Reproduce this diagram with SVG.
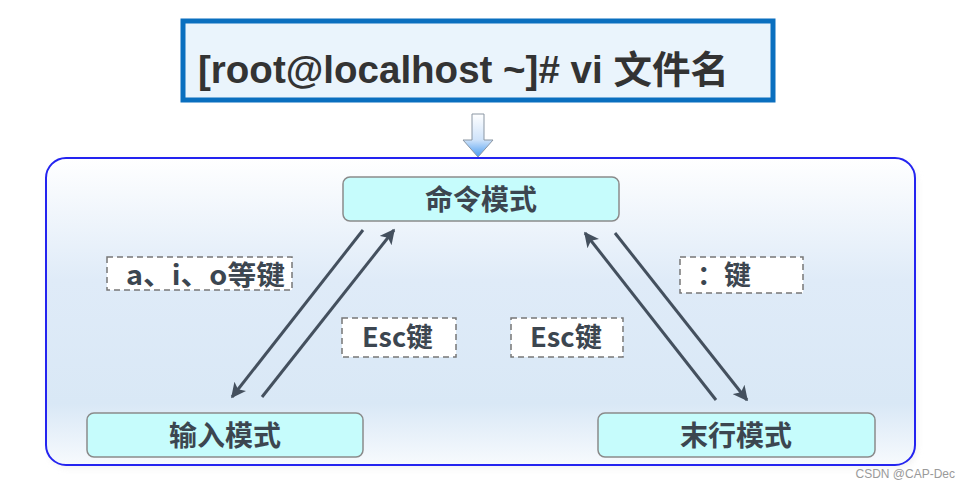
<svg xmlns="http://www.w3.org/2000/svg" width="970" height="487" viewBox="0 0 970 487">
<defs>
<linearGradient id="bg" x1="0" y1="0" x2="0" y2="1">
<stop offset="0" stop-color="#ffffff"/>
<stop offset="0.4" stop-color="#dfebf8"/>
<stop offset="0.8" stop-color="#d9e8f6"/>
<stop offset="1" stop-color="#f7fafd"/>
</linearGradient>
<linearGradient id="ag" x1="0" y1="0" x2="0" y2="1">
<stop offset="0" stop-color="#ffffff"/>
<stop offset="0.6" stop-color="#cfe3fa"/>
<stop offset="1" stop-color="#4a9cf0"/>
</linearGradient>
<marker id="ah" viewBox="0 0 10 10" refX="9" refY="5" markerWidth="5" markerHeight="5" orient="auto" markerUnits="strokeWidth">
<path d="M0,0 L10,5 L0,10 L2.5,5 Z" fill="#44505e"/>
</marker>
<filter id="sh" x="-5%" y="-5%" width="110%" height="115%">
<feGaussianBlur stdDeviation="3"/>
</filter>
</defs>
<style>
.node rect{fill:#c6fcfc;stroke:#8a8a8a;stroke-width:1.5}
.nt{font-family:"Noto Sans CJK SC","Liberation Sans",sans-serif;font-weight:bold;font-size:28px;fill:#3c4650;text-anchor:middle}
.lab rect{fill:#ffffff;stroke:#777;stroke-width:1.5;stroke-dasharray:6,4}
.lt{font-family:"Noto Sans CJK SC","Liberation Sans",sans-serif;font-weight:bold;font-size:27px;fill:#3c4650}
.conn line{stroke:#44505e;stroke-width:3;fill:none}
</style>
<rect width="970" height="487" fill="#ffffff"/>

<g id="cmdline">
<rect x="183" y="21" width="590" height="79" fill="#eaf4fc" stroke="#0a6fbf" stroke-width="5"/>
<text x="198" y="83" font-family="'Liberation Sans','Noto Sans CJK SC',sans-serif" font-weight="bold" font-size="38" fill="#333333" textLength="531" lengthAdjust="spacingAndGlyphs">[root@localhost ~]# vi 文件名</text>
</g>

<g id="down-arrow">
<path d="M472,114 L484,114 L484,140 L493,140 L478,157 L463,140 L472,140 Z" fill="url(#ag)" stroke="#8a96a3" stroke-width="1"/>
</g>

<g id="container">
<rect x="48" y="161" width="869" height="307" rx="20" fill="#e8e8e8" filter="url(#sh)" opacity="0.6"/>
<rect x="46" y="158" width="869" height="307" rx="20" fill="url(#bg)" stroke="#2424f0" stroke-width="2"/>
</g>

<g id="conn" class="conn">
<line x1="363" y1="230" x2="232" y2="397" marker-end="url(#ah)"/>
<line x1="262" y1="397" x2="394" y2="230" marker-end="url(#ah)"/>
<line x1="716" y1="400" x2="585" y2="233" marker-end="url(#ah)"/>
<line x1="615" y1="233" x2="747" y2="400" marker-end="url(#ah)"/>
</g>

<g id="cmd-mode" class="node">
<rect x="343" y="177" width="276" height="44" rx="7"/>
<text class="nt" x="481" y="210">命令模式</text>
</g>
<g id="input-mode" class="node">
<rect x="87" y="413" width="276" height="44" rx="7"/>
<text class="nt" x="225" y="446">输入模式</text>
</g>
<g id="last-line-mode" class="node">
<rect x="598" y="413" width="277" height="44" rx="7"/>
<text class="nt" x="736" y="446">末行模式</text>
</g>

<g id="label-aio" class="lab">
<rect x="107" y="257" width="185" height="33"/>
<text class="lt" x="126" y="285" textLength="159" lengthAdjust="spacingAndGlyphs">a、i、o等键</text>
</g>
<g id="label-esc-left" class="lab">
<rect x="342" y="318" width="114" height="39"/>
<text class="lt" x="362" y="347" textLength="71" lengthAdjust="spacingAndGlyphs">Esc键</text>
</g>
<g id="label-esc-right" class="lab">
<rect x="511" y="318" width="112" height="39"/>
<text class="lt" x="530" y="347" textLength="72" lengthAdjust="spacingAndGlyphs">Esc键</text>
</g>
<g id="label-colon" class="lab">
<rect x="680" y="257" width="123" height="36"/>
<text class="lt" x="697" y="285">：键</text>
</g>

<text x="955" y="478" text-anchor="end" font-family="'Liberation Sans',sans-serif" font-size="12" fill="#9a9a9a">CSDN @CAP-Dec</text>
</svg>
